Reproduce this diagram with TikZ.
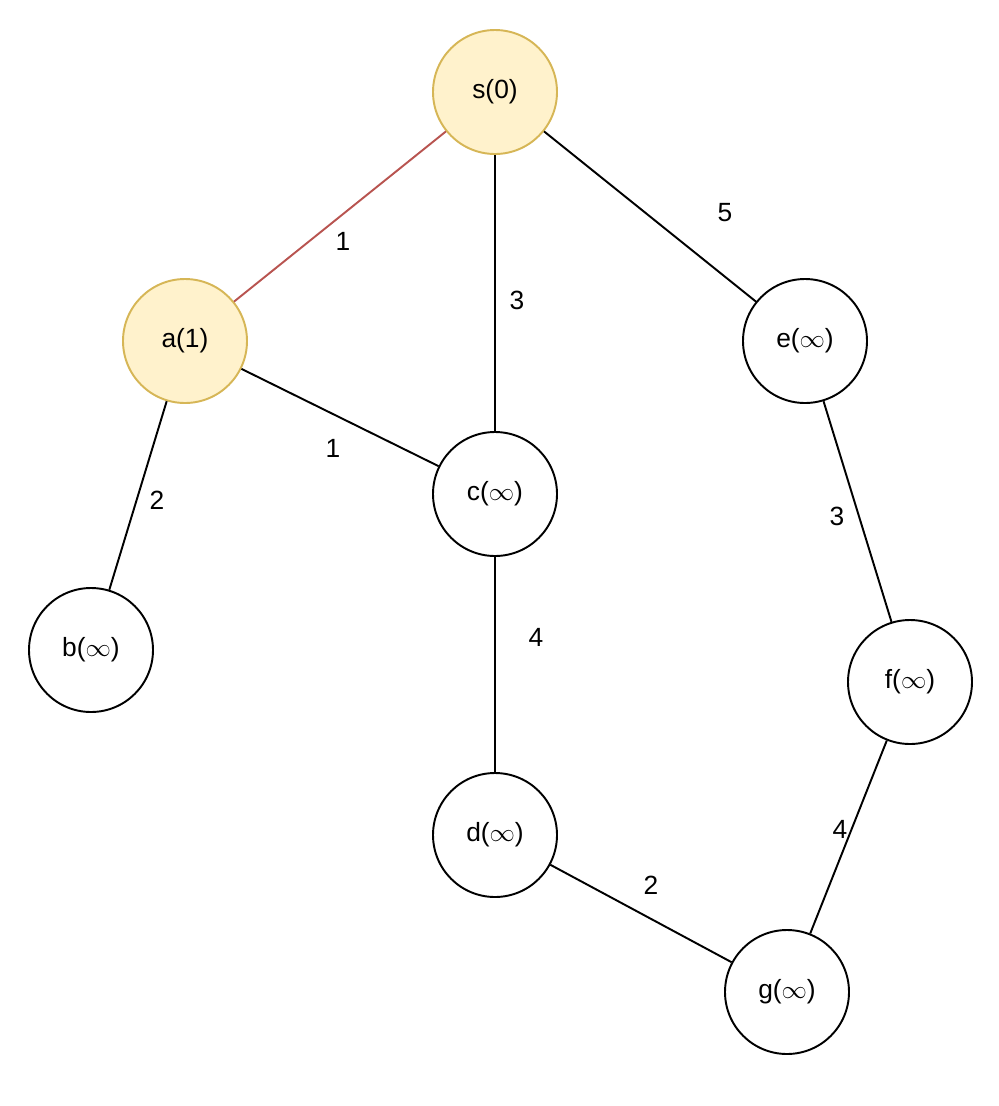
\documentclass[tikz,border=0pt]{standalone}
\usepackage{fontspec}
\setmainfont{Liberation Sans}
\begin{document}
\begin{tikzpicture}[x=0.02cm,y=-0.02cm,
 v/.style={circle,draw=black,line width=1.1pt,minimum size=124*0.02cm,inner sep=0pt,font=\fontsize{15}{18}\selectfont},
 hl/.style={fill=yellowfill,draw=yellowline},
 e/.style={line width=1.1pt},
 lb/.style={font=\fontsize{15}{18}\selectfont}]
\definecolor{yellowfill}{HTML}{FFF2CC}
\definecolor{yellowline}{HTML}{D6B656}
\definecolor{redline}{HTML}{B85450}
\useasboundingbox (0,0) rectangle (998,1106);
\node[v,hl] (s) at (495,92) {s(0)};
\node[v,hl] (a) at (185,341) {a(1)};
\node[v] (c) at (495,494) {c($\infty$)};
\node[v] (e) at (805,341) {e($\infty$)};
\node[v] (b) at (91,650) {b($\infty$)};
\node[v] (f) at (910,682) {f($\infty$)};
\node[v] (d) at (495,835) {d($\infty$)};
\node[v] (g) at (787,992) {g($\infty$)};
\draw[e,redline] (s) -- (a);
\draw[e] (s) -- (c);
\draw[e] (s) -- (e);
\draw[e] (a) -- (c);
\draw[e] (a) -- (b);
\draw[e] (c) -- (d);
\draw[e] (e) -- (f);
\draw[e] (f) -- (g);
\draw[e] (d) -- (g);
\node[lb] (l1) at (343,241) {1};
\node[lb] (l2) at (517,300) {3};
\node[lb] (l3) at (725,213) {5};
\node[lb] (l4) at (333,448) {1};
\node[lb] (l5) at (157,500) {2};
\node[lb] (l6) at (536,637) {4};
\node[lb] (l7) at (837,516) {3};
\node[lb] (l8) at (840,829) {4};
\node[lb] (l9) at (651,885) {2};
\end{tikzpicture}
\end{document}
